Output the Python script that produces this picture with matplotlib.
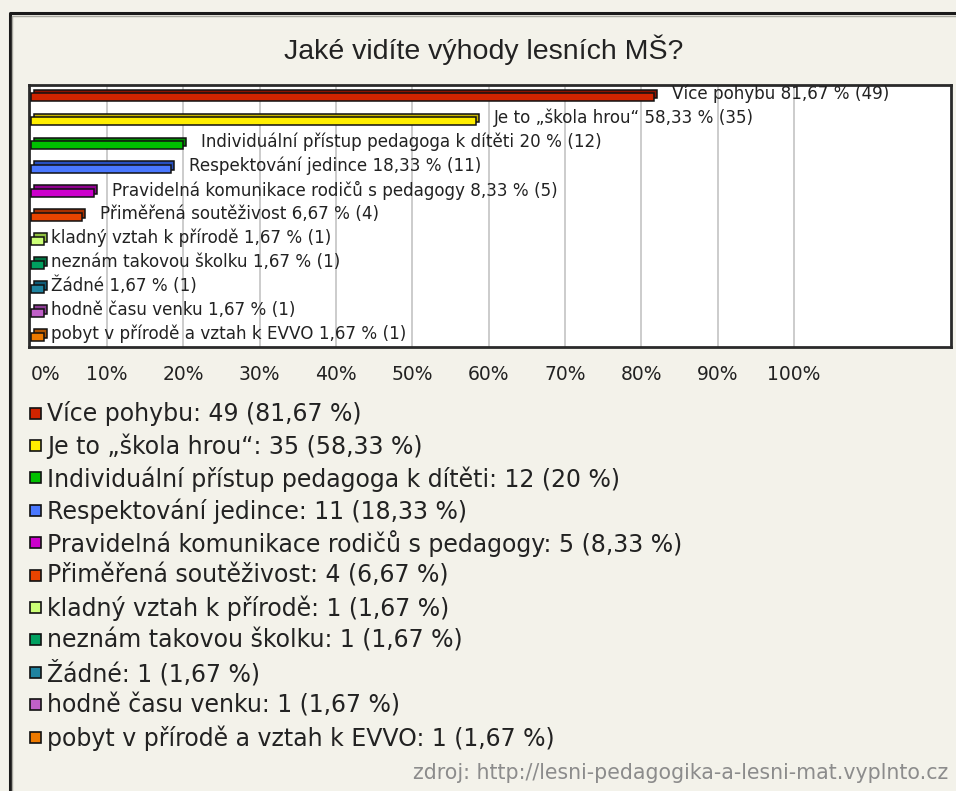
import matplotlib
matplotlib.use("Agg")
import matplotlib.pyplot as plt
from matplotlib.patches import Rectangle
from matplotlib.transforms import ScaledTranslation

# data
answers = [
    "Více pohybu",
    "Je to „škola hrou“",
    "Individuální přístup pedagoga k dítěti",
    "Respektování jedince",
    "Pravidelná komunikace rodičů s pedagogy",
    "Přiměřená soutěživost",
    "kladný vztah k přírodě",
    "neznám takovou školku",
    "Žádné",
    "hodně času venku",
    "pobyt v přírodě a vztah k EVVO",
]
counts = [49, 35, 12, 11, 5, 4, 1, 1, 1, 1, 1]
percents = [81.67, 58.33, 20, 18.33, 8.33, 6.67, 1.67, 1.67, 1.67, 1.67, 1.67]
front_colors = ["#cf2400", "#ffee00", "#00c000", "#4a78ff", "#cc00cc", "#e84400",
                "#ccff77", "#00a060", "#1f83a0", "#c060c8", "#ee7a00"]
back_colors = ["#8a1200", "#c8b400", "#008c00", "#2850c0", "#900090", "#a83000",
               "#90c040", "#007040", "#105c78", "#8c3c94", "#b05400"]
ticks = list(range(0, 101, 10))
tick_labels = [f"{t}%" for t in ticks]

title = "Jaké vidíte výhody lesních MŠ?"
source = "zdroj: http://lesni-pedagogika-a-lesni-mat.vyplnto.cz"

BG = "#f3f2ea"
W, H = 956, 791


def fmt(value):
    return ("%g" % value).replace(".", ",")


fig = plt.figure(figsize=(W / 100, H / 100), dpi=100, facecolor=BG)

# overlay in pixel coordinates for frame, title, legend and source
over = fig.add_axes([0, 0, 1, 1])
over.set_xlim(0, W)
over.set_ylim(H, 0)
over.axis("off")
over.plot([10, 10, W], [H, 13, 13], color="#1a1a1a", lw=2.2, solid_capstyle="butt")
over.plot([12.5, 12.5, W], [H, 15.5, 15.5], color="#a8a8a0", lw=1.0)
over.text(484, 50, title, ha="center", va="center", fontsize=20.5,
          family="Liberation Sans", color="#222222")
for i, (name, cnt, pct, col) in enumerate(zip(answers, counts, percents, front_colors)):
    yc = 413 + i * 32.4
    over.add_patch(Rectangle((30, yc - 5.5), 11, 11, facecolor=col,
                             edgecolor="#111111", lw=1.2))
    over.text(47, yc + 1, f"{name}: {cnt} ({fmt(pct)} %)", ha="left", va="center",
              fontsize=17, color="#222222")
over.text(948, 773, source, ha="right", va="center", fontsize=14.8, color="#8c8c8c")

# bar chart
ax = fig.add_axes([29 / W, 1 - 347 / H, 922 / W, 262 / H])
ax.set_facecolor("white")
ax.set_xlim(-0.25, 120.6)
ax.set_ylim(10.42, -0.5)
for t in ticks[1:]:
    ax.axvline(t, color="#c4c4c4", lw=1.2, zorder=0)

rows = list(range(len(percents)))
px = ScaledTranslation(3 / 100, 3.4 / 100, fig.dpi_scale_trans)
ax.barh(rows, percents, height=0.34, color=back_colors, edgecolor="#111111",
        linewidth=1.1, zorder=2, transform=ax.transData + px)
ax.barh(rows, percents, height=0.34, color=front_colors, edgecolor="#111111",
        linewidth=1.1, zorder=3)

for r, name, cnt, pct in zip(rows, answers, counts, percents):
    gap = 18 if pct > 5 else 7
    off = ScaledTranslation(gap / 100, 0, fig.dpi_scale_trans)
    ax.text(pct, r - 0.12, f"{name} {fmt(pct)} % ({cnt})", ha="left", va="center",
            fontsize=12.1, color="#222222", transform=ax.transData + off, zorder=4)

ax.set_xticks(ticks)
ax.set_xticklabels(tick_labels, fontsize=13.5, color="#222222")
ax.get_xticklabels()[0].set_ha("left")
ax.tick_params(axis="x", length=0, pad=13)
ax.set_yticks([])
for s in ax.spines.values():
    s.set_color("#2a2a2a")
    s.set_linewidth(2)

fig.savefig("out.png", dpi=100, facecolor=BG)
